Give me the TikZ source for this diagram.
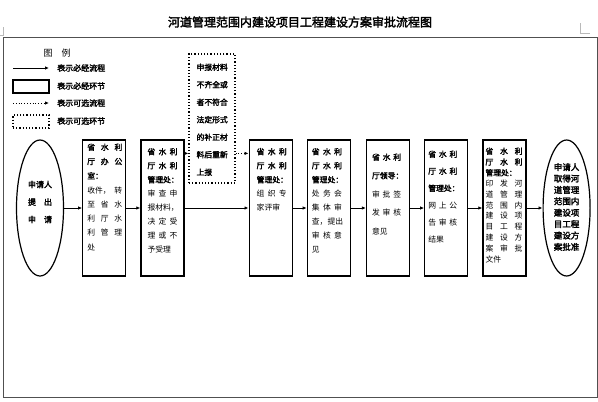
\documentclass[tikz,border=0pt]{standalone}
\usepackage{fontspec}
\newfontfamily\cjk[AutoFakeBold=2.5]{Noto Sans CJK SC}
\usetikzlibrary{arrows.meta,positioning,shapes.geometric}
\definecolor{linegray}{RGB}{80,80,80}
\definecolor{markgray}{RGB}{185,185,185}
\newcommand{\tri}[4][30pt]{\hbox to #1{#2\hfil#3\hfil#4}}

\begin{document}
\begin{tikzpicture}[x=1pt,y=-1pt,
  node distance=15pt,
  stage/.style={rectangle,draw=black,line width=1.2pt,minimum width=43pt,
                minimum height=136pt,inner sep=0pt},
  optstage/.style={rectangle,draw=black,dotted,line width=1.2pt,minimum width=46pt,
                minimum height=129pt,inner sep=0pt},
  terminal/.style={ellipse,draw=black,line width=1.2pt,minimum width=47pt,
                minimum height=136pt,inner sep=0pt},
  boxtext/.style={inner sep=0pt,align=left,font=\cjk\fontsize{7.8}{#1}\selectfont},
  boxtext/.default=14pt,
  legtext/.style={anchor=west,inner sep=0pt,font=\cjk\fontsize{8}{8}\selectfont\bfseries},
  flow/.style={-{Latex[length=4pt,width=3.5pt]},draw=black,line width=0.8pt},
  optflow/.style={flow,dotted}
]
\useasboundingbox (0,0) rectangle (598,402);
% page marks and frame
\draw[markgray,line width=0.6pt] (580,23) -- (580,33) -- (590,33);
\draw[markgray,line width=0.6pt] (0,35) -- (3,35) -- (3,27);
\draw[linegray,line width=0.9pt] (3,37) rectangle (597,397);
\node[font=\cjk\fontsize{12}{12}\selectfont\bfseries] (title) at (300,22)
  {河道管理范围内建设项目工程建设方案审批流程图};

% legend
\node[font=\cjk\fontsize{9}{9}\selectfont] (legtitle) at (57,53) {图\quad 例};
\coordinate (lega) at (13,68);
\coordinate (legb) at (49,68);
\draw[flow] (lega) -- (legb);
\node[legtext] (legt1) at (57,68) {表示必经流程};
\node[stage,minimum width=36pt,minimum height=13pt] (legbox) at (31,86.5) {};
\node[legtext] (legt2) at (57,86) {表示必经环节};
\coordinate (legc) at (13,103);
\coordinate (legd) at (49,103);
\draw[optflow] (legc) -- (legd);
\node[legtext] (legt3) at (57,103) {表示可选流程};
\node[optstage,minimum width=36pt,minimum height=13pt] (legopt) at (31,121.5) {};
\node[legtext] (legt4) at (57,121) {表示可选环节};

% main flow
\node[terminal] (e1) at (40,208) {};
\node[stage,right=18pt of e1] (b1) {};
\node[stage,right=14pt of b1] (b2) {};
\node[stage,right=64pt of b2] (b3) {};
\node[stage,right=14pt of b3] (b4) {};
\node[stage,right=15pt of b4] (b5) {};
\node[stage,right=14pt of b5] (b6) {};
\node[stage,right=14pt of b6] (b7) {};
\node[terminal,right=16pt of b7] (e2) {};
\node[optstage] (opt) at (212,118.5) {};

\node[align=center,inner sep=0pt,font=\cjk\fontsize{8}{17.5}\selectfont\bfseries]
  (e1txt) at ([yshift=6pt]e1.center)
  {申请人\\\hbox to 24pt{提\hfil 出}\\\hbox to 24pt{申\hfil 请}};
\node[align=center,inner sep=0pt,font=\cjk\fontsize{8.5}{11.4}\selectfont\bfseries]
  (e2txt) at ([yshift=1pt]e2.center)
  {申请人\\取得河\\道管理\\范围内\\建设项\\目工程\\建设方\\案批准};

\node[boxtext=14.3pt,below right=4pt and 5pt of b1.north west] (b1txt)
  {\textbf{\tri[35pt]{省}{水}{利}}\\\textbf{\tri[35pt]{厅}{办}{公}}\\\textbf{室：}\\
   \hbox to 35pt{收件，\hfil 转}\\\tri[35pt]{至}{省}{水}\\\tri[35pt]{利}{厅}{水}\\
   \tri[35pt]{利}{管}{理}\\处};
\node[boxtext,below right=8.5pt and 7pt of b2.north west] (b2txt)
  {\textbf{\tri{省}{水}{利}}\\\textbf{\tri{厅}{水}{利}}\\\textbf{管理处：}\\
   \tri{审}{查}{申}\\报材料，\\\tri{决}{定}{受}\\\tri{理}{或}{不}\\予受理};
\node[boxtext,below right=8.5pt and 8pt of b3.north west] (b3txt)
  {\textbf{\tri{省}{水}{利}}\\\textbf{\tri{厅}{水}{利}}\\\textbf{管理处：}\\
   \tri{组}{织}{专}\\家评审};
\node[boxtext,below right=8.5pt and 5pt of b4.north west] (b4txt)
  {\textbf{\tri{省}{水}{利}}\\\textbf{\tri{厅}{水}{利}}\\\textbf{管理处：}\\
   \tri{处}{务}{会}\\\tri{集}{体}{审}\\查，提出\\\tri{审}{核}{意}\\见};
\node[boxtext=18.5pt,below right=14pt and 6pt of b5.north west] (b5txt)
  {\textbf{\tri[29pt]{省}{水}{利}}\\\textbf{厅领导：}\\
   \tri[29pt]{审}{批}{签}\\\tri[29pt]{发}{审}{核}\\意见};
\node[boxtext=17pt,below right=11pt and 4pt of b6.north west] (b6txt)
  {\textbf{\tri[29pt]{省}{水}{利}}\\\textbf{\tri[29pt]{厅}{水}{利}}\\\textbf{管理处：}\\
   \tri[29pt]{网}{上}{公}\\\tri[29pt]{告}{审}{核}\\结果};
\node[boxtext=10.8pt,below right=8pt and 3pt of b7.north west] (b7txt)
  {\textbf{\tri[37pt]{省}{水}{利}}\\\textbf{\tri[37pt]{厅}{水}{利}}\\\textbf{管理处：}\\
   \tri[37pt]{印}{发}{河}\\\tri[37pt]{道}{管}{理}\\\tri[37pt]{范}{围}{内}\\
   \tri[37pt]{建}{设}{项}\\\tri[37pt]{目}{工}{程}\\\tri[37pt]{建}{设}{方}\\
   \tri[37pt]{案}{审}{批}\\文件};
\node[boxtext=17.5pt,below right=10pt and 8pt of opt.north west] (opttxt)
  {\textbf{申报材料}\\\textbf{不齐全或}\\\textbf{者不符合}\\\textbf{法定形式}\\
   \textbf{的补正材}\\\textbf{料后重新}\\\textbf{上报}};

\draw[flow] (e1) -- (b1);
\draw[flow] (b1) -- (b2);
\draw[flow] (b2) -- (b3);
\draw[flow] (b3) -- (b4);
\draw[flow] (b4) -- (b5);
\draw[flow] (b5) -- (b6);
\draw[flow] (b6) -- (b7);
\draw[flow] (b7) -- (e2);
\coordinate (optin) at ([yshift=-14pt]b2.north east);
\draw[optflow] (optin) -- (optin -| opt.west);
\draw[optflow] (optin -| opt.east) -- (optin -| b3.west);
\end{tikzpicture}
\end{document}
